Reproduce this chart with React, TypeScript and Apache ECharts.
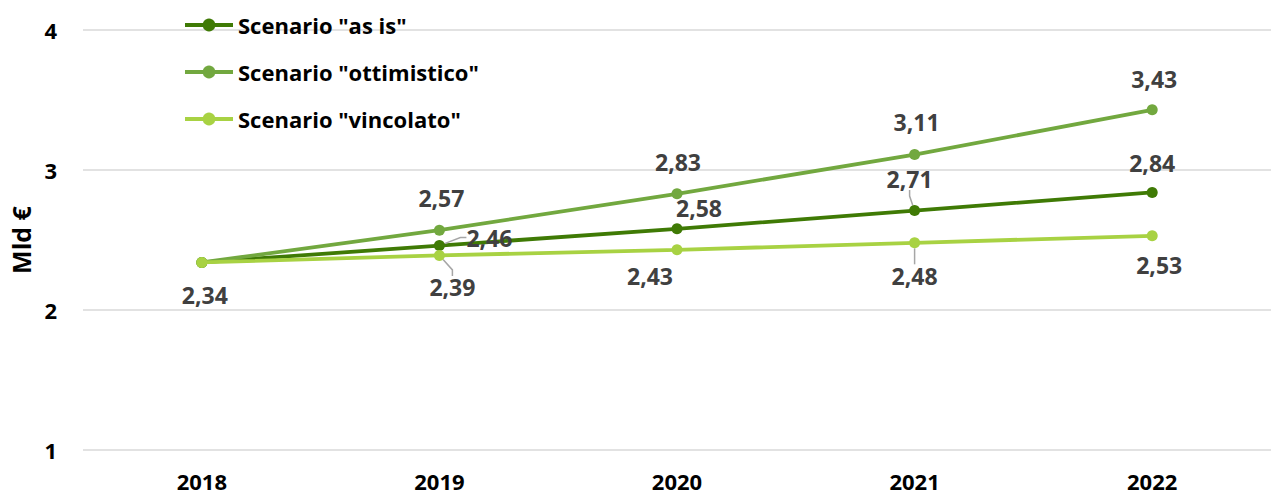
import React, { useEffect, useRef } from "react";
import * as echarts from "echarts";

// Anni e valori dei tre scenari (miliardi di euro)
const years = ["2018", "2019", "2020", "2021", "2022"];
const asIs = [2.34, 2.46, 2.58, 2.71, 2.84];
const ottimistico = [2.34, 2.57, 2.83, 3.11, 3.43];
const vincolato = [2.34, 2.39, 2.43, 2.48, 2.53];
const seriesNames = ['Scenario "as is"', 'Scenario "ottimistico"', 'Scenario "vincolato"'];
const yTicks = [1, 2, 3, 4];

// Label placement relative to each point: [dx, dy], null = no label
const asIsLabelShift: ([number, number] | null)[] = [null, [50, -8], [22, -21], [-5, -32], [0, -29]];
const ottLabelShift: ([number, number] | null)[] = [null, [2, -32], [1, -32], [2, -33], [2, -31]];
const vinLabelShift: ([number, number] | null)[] = [[3, 33], [13, 32], [-27, 26], [0, 33], [7, 29]];
const asIsLeader = [false, true, false, true, false];
const vinLeader = [false, true, false, true, false];

const COLORS = ["#3f7a05", "#72a83f", "#a8d243"];
const FONT = "'Open Sans', 'Noto Sans', sans-serif";

const fmt = (v: number) => v.toFixed(2).replace(".", ",");

function buildData(
  values: number[],
  shifts: ([number, number] | null)[],
  leaders: boolean[] | null
) {
  return values.map((v, i) => ({
    value: v,
    label: { show: shifts[i] !== null },
    labelLine: { show: leaders ? leaders[i] : false },
  }));
}

export default function App() {
  const ref = useRef<HTMLDivElement>(null);

  useEffect(() => {
    if (!ref.current) return;
    const chart = echarts.init(ref.current, null, { renderer: "svg" });

    const shifts = [asIsLabelShift, ottLabelShift, vinLabelShift];
    const seriesValues = [asIs, ottimistico, vincolato];
    const leaders = [asIsLeader, null, vinLeader];

    const labelStyle = {
      show: true,
      position: "inside" as const,
      fontFamily: FONT,
      fontWeight: "bold" as const,
      fontSize: 23,
      color: "#404040",
      formatter: (p: any) => fmt(p.value),
    };

    chart.setOption({
      animation: false,
      textStyle: { fontFamily: FONT },
      grid: { left: 80, right: 0, top: 30, bottom: 46, containLabel: false },
      legend: {
        orient: "vertical",
        left: 183,
        top: 12,
        padding: 0,
        itemWidth: 48,
        itemHeight: 16,
        itemGap: 21,
        lineStyle: { width: 4 },
        textStyle: {
          fontFamily: FONT,
          fontWeight: "bold",
          fontSize: 22,
          lineHeight: 26,
          color: "#000000",
        },
        data: seriesNames,
      },
      xAxis: {
        type: "category",
        data: years,
        boundaryGap: true,
        axisLine: { show: false },
        axisTick: { show: false },
        axisLabel: {
          margin: 20,
          fontFamily: FONT,
          fontWeight: "bold",
          fontSize: 22,
          lineHeight: 22,
          color: "#000000",
        },
      },
      yAxis: {
        type: "value",
        min: yTicks[0],
        max: yTicks[yTicks.length - 1],
        interval: 1,
        name: "Mld €",
        nameLocation: "middle",
        nameGap: 50,
        nameRotate: 90,
        nameTextStyle: {
          fontFamily: FONT,
          fontWeight: "bold",
          fontSize: 25,
          color: "#000000",
        },
        axisLine: { show: false },
        axisTick: { show: false },
        axisLabel: {
          margin: 26,
          fontFamily: FONT,
          fontWeight: "bold",
          fontSize: 22,
          color: "#000000",
        },
        splitLine: { lineStyle: { color: "#d9d9d9", width: 1.5 } },
      },
      labelLayout: (params: any) => {
        const s = shifts[params.seriesIndex][params.dataIndex];
        if (!s) return {};
        return { dx: s[0], dy: s[1] };
      },
      series: seriesNames.map((name, si) => ({
        name,
        type: "line",
        data: buildData(seriesValues[si], shifts[si], leaders[si]),
        symbol: "circle",
        symbolSize: 11,
        showAllSymbol: true,
        itemStyle: { color: COLORS[si] },
        lineStyle: { color: COLORS[si], width: 3.8 },
        label: labelStyle,
        labelLine: {
          show: false,
          length2: 6,
          lineStyle: { color: "#a6a6a6", width: 1.5 },
        },
        z: 2 + si,
      })),
    });

    return () => chart.dispose();
  }, []);

  return (
    <div
      ref={ref}
      style={{ position: "absolute", left: 0, top: 0, width: 1271, height: 496 }}
    />
  );
}
